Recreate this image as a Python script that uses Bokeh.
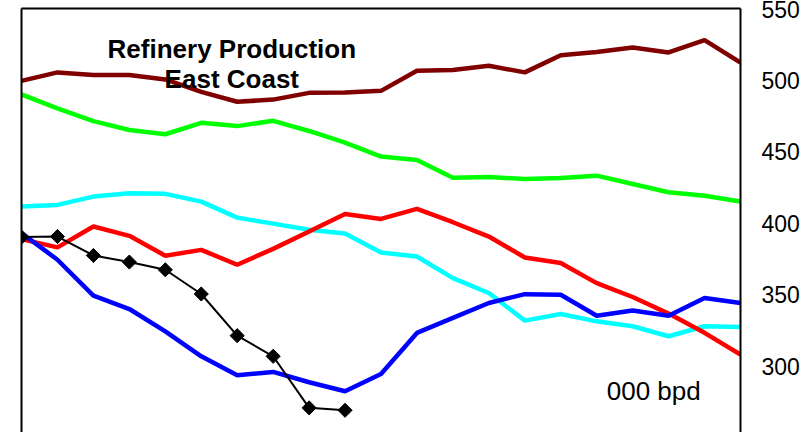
from bokeh.plotting import figure
from bokeh.models import Range1d, LinearAxis, FixedTicker
from bokeh.core.properties import value
from bokeh.embed import file_html
from bokeh.resources import INLINE

periods = list(range(21))
series_brown = [499.5, 505.4, 503.5, 503.5, 500.5, 491.8, 484.9, 486.4, 491.1, 491.4, 492.5,
                506.5, 507.0, 510.0, 505.4, 517.4, 519.7, 522.8, 519.3, 527.9, 512.3]
series_green = [490.0, 480.3, 471.4, 465.2, 462.2, 470.2, 467.9, 471.6, 464.5, 456.3, 446.6,
                444.3, 431.9, 432.4, 431.0, 431.7, 433.3, 427.5, 421.7, 419.3, 415.2]
series_cyan = [411.7, 412.9, 418.7, 421.0, 420.6, 415.2, 404.0, 399.8, 395.6, 392.9, 379.7,
               376.9, 361.8, 351.4, 332.1, 336.7, 331.6, 328.2, 321.2, 328.2, 327.7]
series_red = [389.0, 383.2, 397.8, 391.3, 377.4, 381.5, 371.1, 382.2, 394.3, 406.6, 403.1,
              410.1, 400.8, 390.8, 376.2, 372.3, 358.3, 348.6, 337.0, 323.6, 308.4]
series_blue = [393.2, 374.6, 349.5, 340.2, 324.6, 307.2, 293.9, 296.3, 289.1, 282.8, 294.9,
               323.5, 334.0, 344.4, 350.6, 350.2, 335.5, 339.2, 335.5, 347.9, 344.4]
series_black = [390.4, 390.8, 377.6, 373.0, 367.6, 350.7, 321.6, 307.2, 271.2, 269.5]
y_ticks = [250, 300, 350, 400, 450, 500, 550]

FONT = value("Liberation Sans")

p = figure(width=802, height=432, x_range=Range1d(0, 20), y_range=Range1d(254, 550),
           output_backend="svg", toolbar_location=None,
           x_axis_location=None, y_axis_location=None,
           min_border_left=21, min_border_right=61, min_border_top=8, min_border_bottom=0)
p.outline_line_color = None
p.grid.grid_line_color = None
p.background_fill_color = "white"
p.border_fill_color = "white"

right = LinearAxis(ticker=FixedTicker(ticks=y_ticks), major_tick_out=0, major_tick_in=0,
                   minor_tick_out=0, minor_tick_in=0, major_label_standoff=21,
                   major_label_text_font="Liberation Sans", major_label_text_font_size="23px",
                   major_label_text_color="black", axis_line_width=2, axis_line_color="black")
p.add_layout(right, "right")
left = LinearAxis(ticker=FixedTicker(ticks=[]), major_tick_out=0, major_tick_in=0,
                  minor_tick_out=0, minor_tick_in=0, major_label_standoff=0,
                  axis_line_width=2, axis_line_color="black")
p.add_layout(left, "left")
top = LinearAxis(ticker=FixedTicker(ticks=[]), major_tick_out=0, major_tick_in=0,
                 minor_tick_out=0, minor_tick_in=0, major_label_standoff=0,
                 axis_line_width=2, axis_line_color="black")
p.add_layout(top, "above")

p.line(periods, series_brown, line_color="#800000", line_width=4.5)
p.line(periods, series_green, line_color="#00FF00", line_width=4.5)
p.line(periods, series_cyan, line_color="#00FFFF", line_width=4.5)
p.line(periods, series_red, line_color="#FF0000", line_width=4.5)
p.line(periods, series_blue, line_color="#0000FF", line_width=4.5)
bx = periods[:len(series_black)]
p.line(bx, series_black, line_color="black", line_width=2)
p.scatter(bx, series_black, marker="square", angle=0.785398, size=10,
          fill_color="black", line_color="black")

p.text(x=[5.85], y=[521.9], text=["Refinery Production"], text_font=FONT,
       text_font_style="bold", text_font_size="26px", text_align="center",
       text_baseline="alphabetic", text_color="black")
p.text(x=[5.85], y=[500.9], text=["East Coast"], text_font=FONT,
       text_font_style="bold", text_font_size="26px", text_align="center",
       text_baseline="alphabetic", text_color="black")
p.text(x=[16.28], y=[282.8], text=["000 bpd"], text_font=FONT,
       text_font_size="26px", text_align="left", text_baseline="alphabetic",
       text_color="black")

open("out.html", "w").write(file_html(p, INLINE))
